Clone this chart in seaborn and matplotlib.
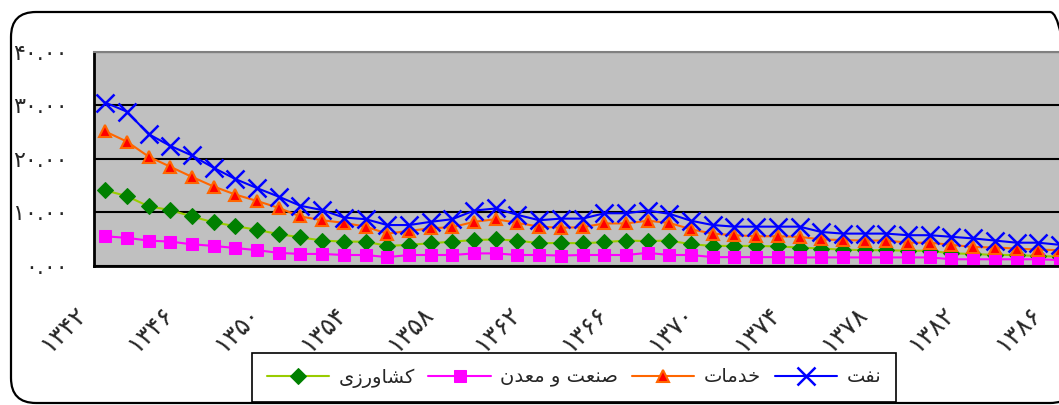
import matplotlib
matplotlib.use("Agg")
import matplotlib.pyplot as plt
import matplotlib.transforms as mtransforms
from matplotlib.patches import FancyBboxPatch
import seaborn as sns

# years 1342..1386 (Persian calendar)
years = list(range(1342, 1387))

agri = [14.1, 13.0, 11.1, 10.4, 9.2, 8.1, 7.4, 6.7, 5.9, 5.3, 4.7,
        4.5, 4.5, 3.7, 3.9, 4.2, 4.5, 4.8, 4.9, 4.7, 4.2, 4.25,
        4.2, 4.4, 4.7, 4.6, 4.7, 4.0, 3.7, 3.7, 3.7, 3.6,
        3.4, 3.2, 3.0, 2.9, 2.9, 2.8, 2.8, 2.3, 2.2, 2.0, 2.0, 1.8, 1.7]
industry = [5.5, 5.2, 4.7, 4.5, 4.0, 3.7, 3.3, 2.9, 2.4, 2.2, 2.2,
            2.0, 2.0, 1.6, 2.0, 2.0, 2.0, 2.3, 2.3, 2.0, 2.0, 1.9,
            2.0, 2.0, 2.0, 2.4, 2.0, 2.0, 1.6, 1.6, 1.6, 1.6,
            1.55, 1.55, 1.55, 1.55, 1.55, 1.55, 1.55, 1.2, 1.2, 1.2, 1.2, 1.2, 1.05]
services = [25.1, 23.2, 20.4, 18.5, 16.6, 14.8, 13.3, 12.1, 10.8, 9.2, 8.5,
            8.0, 7.3, 6.0, 6.5, 7.0, 7.2, 8.2, 8.7, 8.0, 7.3, 7.1,
            7.2, 7.9, 7.9, 8.4, 8.0, 6.8, 6.0, 5.7, 5.5, 5.5,
            5.4, 4.9, 4.8, 4.7, 4.7, 4.3, 4.3, 3.9, 3.5, 3.4, 3.2, 3.0, 2.9]
oil = [30.5, 28.8, 24.6, 22.4, 20.6, 18.3, 16.2, 14.5, 12.9, 11.2, 10.4,
       9.0, 8.7, 7.6, 7.6, 8.2, 8.7, 10.3, 10.7, 9.5, 8.5, 8.8,
       8.8, 9.8, 9.8, 10.3, 9.7, 8.4, 7.6, 7.3, 7.3, 7.3,
       7.3, 6.3, 6.0, 6.0, 6.0, 5.7, 5.7, 5.4, 5.1, 4.7, 4.3, 4.3, 3.9]

labels = ["کشاورزی", "صنعت و معدن", "خدمات", "نفت"]
y_ticks = [0, 10, 20, 30, 40]

# minimal arabic shaping (matplotlib has no bidi / joining)
FORMS = {
    'ا': ('\uFE8D', '\uFE8E'), 'د': ('\uFEA9', '\uFEAA'),
    'ر': ('\uFEAD', '\uFEAE'), 'ز': ('\uFEAF', '\uFEB0'),
    'و': ('\uFEED', '\uFEEE'),
    'ت': ('\uFE95', '\uFE96', '\uFE97', '\uFE98'),
    'خ': ('\uFEA5', '\uFEA6', '\uFEA7', '\uFEA8'),
    'ش': ('\uFEB5', '\uFEB6', '\uFEB7', '\uFEB8'),
    'ص': ('\uFEB9', '\uFEBA', '\uFEBB', '\uFEBC'),
    'ع': ('\uFEC9', '\uFECA', '\uFECB', '\uFECC'),
    'ف': ('\uFED1', '\uFED2', '\uFED3', '\uFED4'),
    'م': ('\uFEE1', '\uFEE2', '\uFEE3', '\uFEE4'),
    'ن': ('\uFEE5', '\uFEE6', '\uFEE7', '\uFEE8'),
    'ک': ('\uFB8E', '\uFB8F', '\uFB90', '\uFB91'),
    'ی': ('\uFBFC', '\uFBFD', '\uFBFE', '\uFBFF'),
}


def shape(text):
    out = []
    for i, ch in enumerate(text):
        f = FORMS.get(ch)
        if f is None:
            out.append(ch)
            continue
        prev = text[i - 1] if i > 0 else ''
        nxt = text[i + 1] if i + 1 < len(text) else ''
        joins_prev = prev in FORMS and len(FORMS[prev]) == 4
        joins_next = len(f) == 4 and nxt in FORMS
        out.append(f[(1 if joins_prev else 0) + (2 if joins_next else 0)])
    return ''.join(reversed(out))


fa_digits = str.maketrans('0123456789', '۰۱۲۳۴۵۶۷۸۹')

sns.set_style("white")
plt.rcParams['font.family'] = ['DejaVu Sans']

fig = plt.figure(figsize=(10.59, 4.05), dpi=100)
ax = fig.add_axes([94.3 / 1059, 139.3 / 405, 976.5 / 1059, 214 / 405])
ax.set_facecolor('#C0C0C0')

x = list(range(len(years)))
sns.lineplot(x=x, y=agri, ax=ax, color='#99CC00', lw=1.5, marker='D', markersize=8,
             markerfacecolor='#008000', markeredgecolor='#008000', label=shape(labels[0]))
sns.lineplot(x=x, y=industry, ax=ax, color='#FF00FF', lw=1.5, marker='s', markersize=8,
             markerfacecolor='#FF00FF', markeredgecolor='#FF00FF', label=shape(labels[1]))
sns.lineplot(x=x, y=services, ax=ax, color='#FF6600', lw=1.5, marker='^', markersize=9,
             markerfacecolor='#FF0000', markeredgecolor='#FF6600', markeredgewidth=1.5,
             label=shape(labels[2]))
sns.lineplot(x=x, y=oil, ax=ax, color='#0000FF', lw=1.5, marker='x', markersize=13,
             markeredgecolor='#0000FF', markeredgewidth=1.8, label=shape(labels[3]))

ax.set_xlim(-0.5, len(years) - 0.5)
ax.set_ylim(0, 40)
ax.set_yticks(y_ticks)
ax.set_yticklabels([f"{v:.2f}".translate(fa_digits) for v in y_ticks], fontsize=16)
ax.yaxis.grid(True, color='black', lw=1.5)
ax.set_axisbelow(True)

ax.set_xticks(x[::4])
ax.set_xticklabels([str(y).translate(fa_digits) for y in years[::4]], fontsize=18,
                   rotation=45, ha='right', va='top', rotation_mode='anchor')
ax.set_xticks([i - 0.5 for i in range(len(years) + 1)], minor=True)
ax.tick_params(axis='x', which='major', length=0, pad=26)
ax.tick_params(axis='x', which='minor', length=8, width=1.5, color='black', direction='out')
ax.tick_params(axis='y', length=8, width=1.5, color='black', direction='out', pad=11)
shift = mtransforms.ScaledTranslation(-0.31, 0, fig.dpi_scale_trans)
for t in ax.get_xticklabels():
    t.set_transform(t.get_transform() + shift)

for s in ['left', 'bottom']:
    ax.spines[s].set_color('black')
    ax.spines[s].set_linewidth(2)
ax.spines['top'].set_color('#808080')
ax.spines['top'].set_linewidth(1.5)
ax.spines['right'].set_visible(False)
ax.set_xlabel('')
ax.set_ylabel('')

leg = ax.legend(loc='center', bbox_to_anchor=(574 / 1059, 27.5 / 405),
                bbox_transform=fig.transFigure, ncol=4, fontsize=14, frameon=True,
                fancybox=False, edgecolor='black', framealpha=1, handlelength=3.2,
                columnspacing=0.7, handletextpad=0.5, borderpad=0.75)
leg.get_frame().set_linewidth(1.2)

# outer chart border, its right side runs past the picture edge
frame = FancyBboxPatch((0.11, 0.02), 10.64, 3.91, boxstyle='round,pad=0,rounding_size=0.25',
                       transform=fig.dpi_scale_trans, fill=False, lw=1.6, ec='black')
fig.add_artist(frame)

fig.savefig('out.png', dpi=100)
